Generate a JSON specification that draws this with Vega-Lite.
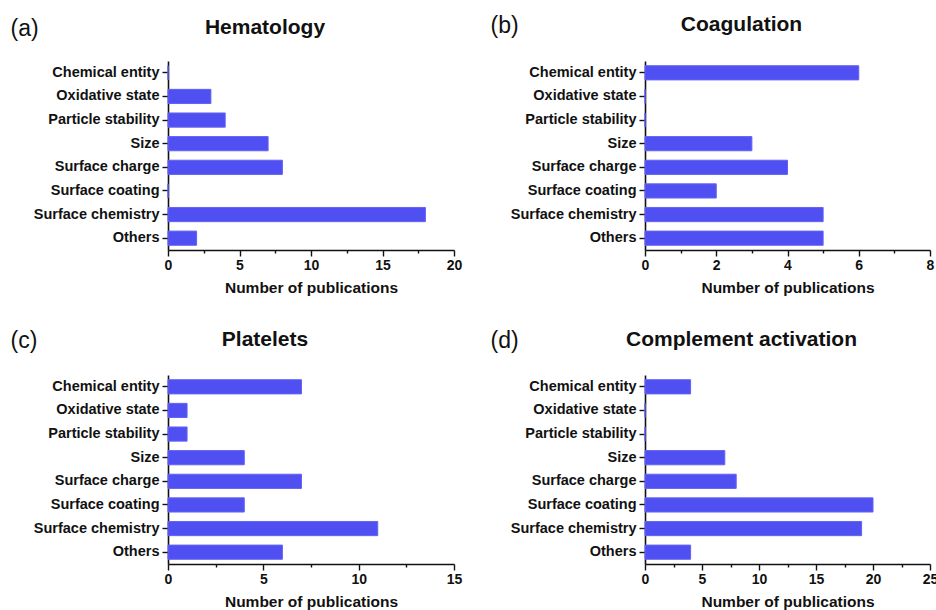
{
  "$schema": "https://vega.github.io/schema/vega-lite/v6.json",
  "padding": {"left": 10, "top": 14, "right": 0, "bottom": 4},
  "background": "white",
  "config": {
    "view": {"stroke": null},
    "font": "Liberation Sans",
    "title": {"fontSize": 21, "fontWeight": "bold", "color": "#111", "anchor": "middle", "frame": "group", "dx": -46, "offset": 22, "dy": 43},
    "axis": {
      "domainColor": "#111", "domainWidth": 1.6, "tickColor": "#111", "tickWidth": 1.4,
      "labelFont": "Liberation Sans", "labelFontWeight": "bold", "labelColor": "#111",
      "titleFont": "Liberation Sans", "titleColor": "#111", "grid": false
    },
    "axisY": {"labelFontSize": 14.5, "tickSize": 6, "labelPadding": 3, "titleFontWeight": "normal", "titleFontSize": 23, "titleAngle": 0, "titleAlign": "left", "titleBaseline": "middle"},
    "axisX": {"labelFontSize": 14, "labelPadding": 2, "labelOverlap": false, "labelFlush": false, "titleFontSize": 15.5, "titleFontWeight": "bold", "titlePadding": 8},
    "bar": {"color": "#5050F2", "stroke": "#6262F6", "strokeWidth": 1}
  },
  "data": {"values": [
    {"panel": "a", "factor": "Chemical entity", "count": 0},
    {"panel": "a", "factor": "Oxidative state", "count": 3},
    {"panel": "a", "factor": "Particle stability", "count": 4},
    {"panel": "a", "factor": "Size\u00a0\u00a0", "count": 7},
    {"panel": "a", "factor": "Surface charge", "count": 8},
    {"panel": "a", "factor": "Surface coating", "count": 0},
    {"panel": "a", "factor": "Surface chemistry", "count": 18},
    {"panel": "a", "factor": "Others", "count": 2},
    {"panel": "b", "factor": "Chemical entity", "count": 6},
    {"panel": "b", "factor": "Oxidative state", "count": 0},
    {"panel": "b", "factor": "Particle stability", "count": 0},
    {"panel": "b", "factor": "Size\u00a0\u00a0", "count": 3},
    {"panel": "b", "factor": "Surface charge", "count": 4},
    {"panel": "b", "factor": "Surface coating", "count": 2},
    {"panel": "b", "factor": "Surface chemistry", "count": 5},
    {"panel": "b", "factor": "Others", "count": 5},
    {"panel": "c", "factor": "Chemical entity", "count": 7},
    {"panel": "c", "factor": "Oxidative state", "count": 1},
    {"panel": "c", "factor": "Particle stability", "count": 1},
    {"panel": "c", "factor": "Size\u00a0\u00a0", "count": 4},
    {"panel": "c", "factor": "Surface charge", "count": 7},
    {"panel": "c", "factor": "Surface coating", "count": 4},
    {"panel": "c", "factor": "Surface chemistry", "count": 11},
    {"panel": "c", "factor": "Others", "count": 6},
    {"panel": "d", "factor": "Chemical entity", "count": 4},
    {"panel": "d", "factor": "Oxidative state", "count": 0},
    {"panel": "d", "factor": "Particle stability", "count": 0},
    {"panel": "d", "factor": "Size\u00a0\u00a0", "count": 7},
    {"panel": "d", "factor": "Surface charge", "count": 8},
    {"panel": "d", "factor": "Surface coating", "count": 20},
    {"panel": "d", "factor": "Surface chemistry", "count": 19},
    {"panel": "d", "factor": "Others", "count": 4}
  ]},
  "columns": 2,
  "spacing": {"column": 28, "row": 33},
  "concat": [
    {
      "transform": [{"filter": "datum.panel === 'a'"}],
      "title": "Hematology",
      "width": 286, "height": 189,
      "mark": "bar",
      "encoding": {
        "y": {"field": "factor", "type": "nominal", "sort": null, "scale": {"paddingInner": 0.4, "paddingOuter": 0.2}, "title": "(a)", "axis": {"titleX": -158, "titleY": -33}},
        "x": {"field": "count", "type": "quantitative", "scale": {"domain": [0, 20], "nice": false}, "title": "Number of publications",
          "axis": {"values": [0, 2.5, 5, 7.5, 10, 12.5, 15, 17.5, 20], "labelExpr": "datum.value % 5 === 0 ? datum.label : ''", "tickSize": {"condition": {"test": "datum.value % 5 === 0", "value": 6}, "value": 3}}}
      }
    },
    {
      "transform": [{"filter": "datum.panel === 'b'"}],
      "title": "Coagulation",
      "width": 285, "height": 189,
      "mark": "bar",
      "encoding": {
        "y": {"field": "factor", "type": "nominal", "sort": null, "scale": {"paddingInner": 0.4, "paddingOuter": 0.2}, "title": "(b)", "axis": {"titleX": -155, "titleY": -36}},
        "x": {"field": "count", "type": "quantitative", "scale": {"domain": [0, 8], "nice": false}, "title": "Number of publications",
          "axis": {"values": [0, 1, 2, 3, 4, 5, 6, 7, 8], "labelExpr": "datum.value % 2 === 0 ? datum.label : ''", "tickSize": {"condition": {"test": "datum.value % 2 === 0", "value": 6}, "value": 3}}}
      }
    },
    {
      "transform": [{"filter": "datum.panel === 'c'"}],
      "title": "Platelets",
      "width": 286, "height": 189,
      "mark": "bar",
      "encoding": {
        "y": {"field": "factor", "type": "nominal", "sort": null, "scale": {"paddingInner": 0.4, "paddingOuter": 0.2}, "title": "(c)", "axis": {"titleX": -158, "titleY": -35}},
        "x": {"field": "count", "type": "quantitative", "scale": {"domain": [0, 15], "nice": false}, "title": "Number of publications",
          "axis": {"values": [0, 2.5, 5, 7.5, 10, 12.5, 15], "labelExpr": "datum.value % 5 === 0 ? datum.label : ''", "tickSize": {"condition": {"test": "datum.value % 5 === 0", "value": 6}, "value": 3}}}
      }
    },
    {
      "transform": [{"filter": "datum.panel === 'd'"}],
      "title": "Complement activation",
      "width": 285, "height": 189,
      "mark": "bar",
      "encoding": {
        "y": {"field": "factor", "type": "nominal", "sort": null, "scale": {"paddingInner": 0.4, "paddingOuter": 0.2}, "title": "(d)", "axis": {"titleX": -155, "titleY": -35}},
        "x": {"field": "count", "type": "quantitative", "scale": {"domain": [0, 25], "nice": false}, "title": "Number of publications",
          "axis": {"values": [0, 2.5, 5, 7.5, 10, 12.5, 15, 17.5, 20, 22.5, 25], "labelExpr": "datum.value % 5 === 0 ? datum.label : ''", "tickSize": {"condition": {"test": "datum.value % 5 === 0", "value": 6}, "value": 3}}}
      }
    }
  ]
}
